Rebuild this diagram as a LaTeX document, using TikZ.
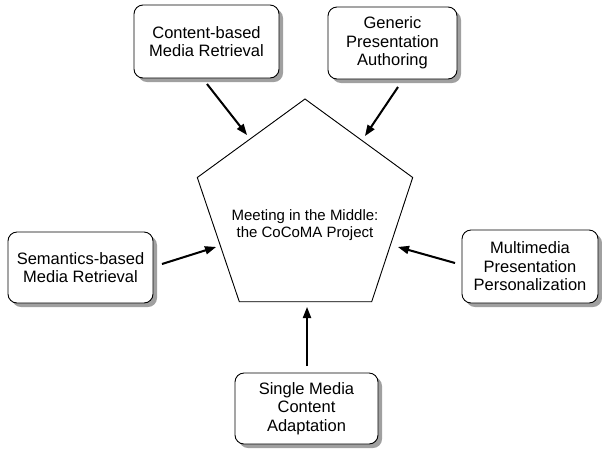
\documentclass[tikz,border=0pt]{standalone}
\usepackage{fontspec}
\setmainfont{Liberation Sans}
\usetikzlibrary{arrows.meta,shadows}
\definecolor{shade}{HTML}{A0A0A0}
\definecolor{arrowshade}{HTML}{BBBBBB}
\tikzset{
  topic/.style={draw=black, line width=0.9pt, rounded corners=9pt, fill=white,
    align=center, font=\fontsize{16.5}{18.5}\selectfont, inner sep=0pt,
    drop shadow={shadow xshift=4pt, shadow yshift=-4pt, fill=shade, opacity=1}},
  feed/.style={line width=2pt, -{Triangle[length=11pt,width=8pt]}},
  feedshade/.style={line width=1.4pt, draw=arrowshade, -{Triangle[length=10pt,width=7pt]}}
}
\begin{document}
\begin{tikzpicture}[x=1pt,y=-1pt]
\useasboundingbox (0,0) rectangle (602,448);

% central pentagon
\coordinate (p1) at (305,99);
\coordinate (p2) at (412.7,177.5);
\coordinate (p3) at (371.7,301.7);
\coordinate (p4) at (239.3,301.7);
\coordinate (p5) at (197.3,177.5);
\fill[shade, xshift=4pt, yshift=-4pt] (p1) -- (p2) -- (p3) -- (p4) -- (p5) -- cycle;
\draw[line width=0.9pt, fill=white] (p1) -- (p2) -- (p3) -- (p4) -- (p5) -- cycle;
\node[align=center, font=\fontsize{15}{17.5}\selectfont] (core) at (305,225)
  {Meeting in the Middle:\\the CoCoMA Project};

% surrounding topics
\node[topic, minimum width=145pt, minimum height=73pt] (b1) at (206.5,41.5)
  {Content-based\\Media Retrieval};
\node[topic, minimum width=129pt, minimum height=72pt] (b2) at (392.5,43)
  {Generic\\Presentation\\Authoring};
\node[topic, minimum width=145pt, minimum height=71pt] (b3) at (80.5,267.5)
  {Semantics-based\\Media Retrieval};
\node[topic, minimum width=136pt, minimum height=73pt] (b4) at (530,266.5)
  {Multimedia\\Presentation\\Personalization};
\node[topic, minimum width=143pt, minimum height=71pt] (b5) at (306.5,408.5)
  {Single Media\\Content\\Adaptation};

% arrow ends
\coordinate (s1) at (207,84);   \coordinate (t1) at (247,135);
\coordinate (s2) at (398,87);   \coordinate (t2) at (365,136);
\coordinate (s3) at (162,264);  \coordinate (t3) at (216,247);
\coordinate (s4) at (455,263);  \coordinate (t4) at (398,247);
\coordinate (s5) at (307,366);  \coordinate (t5) at (307,307);

% arrow shadows
\begin{scope}[xshift=2.5pt, yshift=-2pt]
  \foreach \i in {1,...,5} \draw[feedshade] (s\i) -- (t\i);
\end{scope}
% arrows
\foreach \i in {1,...,5} \draw[feed] (s\i) -- (t\i);
\end{tikzpicture}
\end{document}
